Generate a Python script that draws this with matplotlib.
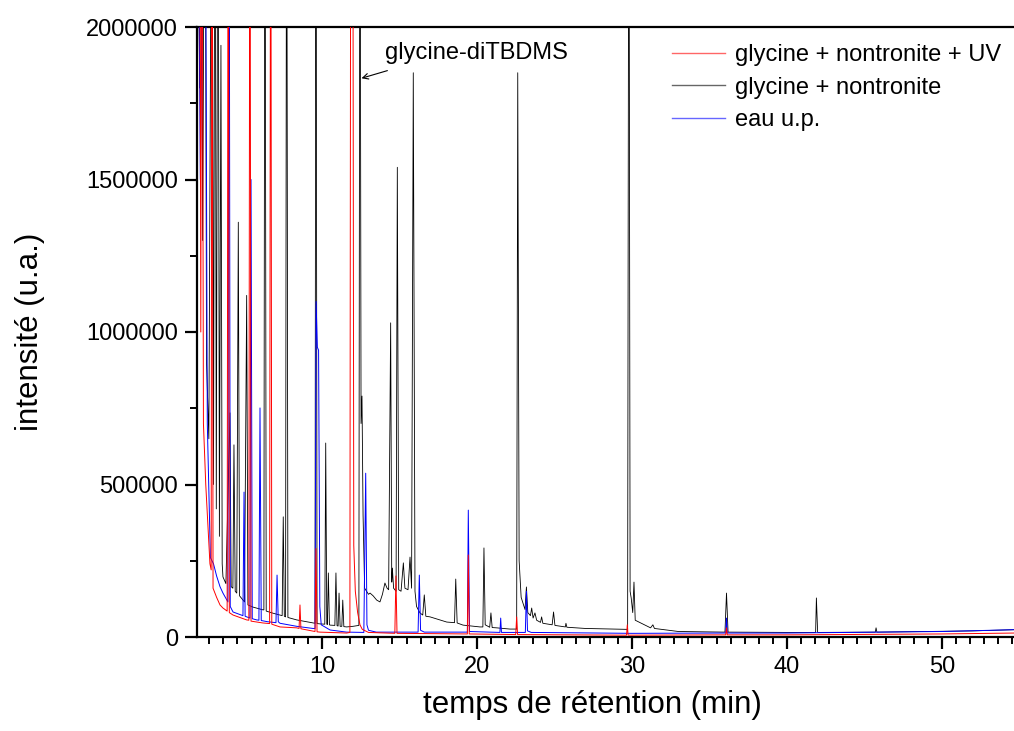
import matplotlib
matplotlib.use("Agg")
import matplotlib.pyplot as plt
from matplotlib.lines import Line2D
from matplotlib.ticker import MultipleLocator, FixedLocator, ScalarFormatter

plt.rcParams['font.family'] = ['Liberation Sans', 'DejaVu Sans']

# ---------------- data (retention time in min, intensity in a.u.) ----------------
labels = ["glycine + nontronite + UV", "glycine + nontronite", "eau u.p."]
colors = ['#ff0000', '#000000', '#0000ff']

black_t = [1.95, 2.1, 2.2, 2.3, 2.45, 2.55, 2.7, 2.9, 3.0, 3.1, 3.18, 3.29, 3.38, 3.48, 3.56, 3.61, 3.8,
           4.06, 4.14, 4.25, 4.32, 4.4, 4.5, 4.6, 4.68, 5.0, 5.14, 5.22, 5.55, 6.19, 6.25, 6.32, 6.4,
           6.84, 7.29, 7.43, 7.5, 7.57, 7.65, 7.72, 7.8, 8.37, 9.42, 9.55, 9.61, 9.68, 9.87, 10.18,
           10.24, 10.31, 10.35, 10.41, 10.48, 10.52, 10.83, 10.9, 10.97, 11.04, 11.1, 11.17, 11.28,
           11.34, 11.41, 11.59, 12.0, 12.38, 12.45, 12.52, 12.58, 12.65, 12.75, 13.0, 13.1, 13.3,
           13.53, 13.74, 13.9, 14.06, 14.2, 14.3, 14.43, 14.5, 14.54, 14.62, 14.78, 14.86, 14.95,
           15.1, 15.25, 15.35, 15.55, 15.68, 15.78, 15.89, 16.0, 16.1, 16.32, 16.5, 16.6, 16.7, 16.97,
           18.05, 18.55, 18.63, 18.72, 19.1, 20.19, 20.38, 20.45, 20.53, 20.82, 20.9, 20.98, 21.27,
           22.13, 22.56, 22.63, 22.72, 22.85, 23.1, 23.19, 23.28, 23.45, 23.53, 23.62, 23.74, 23.85,
           24.1, 24.17, 24.25, 24.85, 24.94, 25.03, 25.7, 25.74, 25.8, 27.0, 29.5, 29.72, 29.8,
           29.88, 29.95, 30.05, 30.13, 30.21, 30.6, 31.2, 31.35, 31.45, 33.0, 36.0, 36.1, 36.2,
           40.0, 41.85, 41.9, 41.98, 45.7, 45.75, 45.8, 49.1, 52.0, 54.7]
black_i = [3.0e6, 1.8e6, 3.0e6, 1.3e6, 3.0e6, 9.0e5, 6.5e5, 3.0e6, 5.0e5, 3.0e6, 4.2e5, 3.0e6, 3.3e5,
           1.94e6, 2.4e5, 1.97e5, 1.75e5, 7.35e5, 1.65e5, 1.6e5, 6.3e5, 1.5e5, 1.44e5, 1.36e6, 1.35e5,
           1.15e5, 1.12e6, 1.05e5, 9.8e4, 8.9e4, 8.9e4, 3.0e6, 8.5e4, 7.8e4, 7.2e4, 7.0e4, 3.94e5,
           6.8e4, 6.6e4, 3.0e6, 6.4e4, 5.6e4, 4.6e4, 4.5e4, 3.0e6, 4.4e4, 4.3e4, 4.2e4, 6.36e5, 4.2e4,
           4.1e4, 2.1e5, 4.0e4, 3.9e4, 3.8e4, 2.1e5, 3.7e4, 3.6e4, 1.44e5, 3.5e4, 3.5e4, 1.21e5, 3.4e4,
           3.3e4, 3.5e4, 3.8e4, 3.0e6, 7.0e5, 7.9e5, 4.0e5, 1.6e5, 1.4e5, 1.44e5, 1.35e5, 1.21e5,
           1.15e5, 1.4e5, 1.77e5, 1.6e5, 1.55e5, 1.03e6, 1.8e5, 2.26e5, 1.6e5, 1.5e5, 1.54e6, 1.55e5,
           1.5e5, 2.43e5, 1.6e5, 1.55e5, 2.62e5, 1.6e5, 1.85e6, 1.5e5, 1.0e5, 7.9e4, 7.2e4, 1.38e5,
           6.8e4, 6.6e4, 4.9e4, 4.7e4, 1.9e5, 4.6e4, 3.9e4, 3.3e4, 3.3e4, 2.92e5, 4.0e4, 3.2e4, 7.9e4,
           3.1e4, 3.0e4, 2.6e4, 2.6e4, 1.85e6, 2.5e5, 1.3e5, 9.0e4, 1.64e5, 8.0e4, 7.0e4, 9.5e4, 6.2e4,
           7.9e4, 5.5e4, 4.8e4, 6.6e4, 4.5e4, 4.0e4, 8.2e4, 3.8e4, 3.3e4, 4.5e4, 3.2e4, 2.8e4, 2.5e4,
           2.5e4, 3.0e6, 1.5e5, 1.28e5, 8.0e4, 1.8e5, 5.5e4, 4.5e4, 3.0e4, 4.0e4, 2.8e4, 1.8e4, 1.6e4,
           1.44e5, 1.6e4, 1.5e4, 1.5e4, 1.28e5, 1.5e4, 1.6e4, 3.0e4, 1.6e4, 1.8e4, 2.0e4, 2.4e4]

blue_t = [1.95, 2.15, 2.45, 2.6, 2.8, 3.0, 3.2, 3.42, 3.61, 3.93, 4.0, 4.08, 4.26, 4.9, 4.97, 5.04,
          5.35, 5.42, 5.5, 5.79, 5.93, 6.0, 6.08, 6.5, 7.03, 7.1, 7.18, 7.29, 8.37, 9.42, 9.55, 9.62,
          9.7, 9.78, 9.86, 9.95, 10.52, 11.59, 12.7, 12.82, 12.9, 13.0, 13.5, 16.2, 16.28, 16.36,
          16.6, 19.38, 19.44, 19.52, 21.48, 21.53, 21.58, 23.12, 23.19, 23.26, 23.5, 30.0, 36.05,
          36.1, 36.15, 40.0, 50.0, 54.7]
blue_i = [3.0e6, 1.5e6, 3.0e6, 7.0e5, 2.6e5, 2.4e5, 2.0e5, 1.65e5, 1.44e5, 1.15e5, 3.0e6, 1.0e5,
          8.2e4, 7.0e4, 4.75e5, 6.8e4, 6.2e4, 1.5e6, 6.0e4, 5.6e4, 5.5e4, 7.51e5, 5.4e4, 5.0e4, 4.7e4,
          2.03e5, 5.0e4, 4.5e4, 3.5e4, 2.8e4, 2.8e4, 1.1e6, 9.5e5, 9.4e5, 1.0e5, 4.0e4, 2.3e4, 1.6e4,
          1.5e4, 5.37e5, 4.0e4, 2.2e4, 1.6e4, 1.6e4, 2.03e5, 2.2e4, 1.6e4, 1.6e4, 4.16e5, 1.8e4, 1.5e4,
          6.2e4, 1.5e4, 1.5e4, 1.5e5, 2.0e4, 1.5e4, 1.2e4, 1.3e4, 6.2e4, 1.3e4, 1.3e4, 1.8e4, 2.4e4]

red_t = [1.95, 2.1, 2.18, 2.25, 2.35, 2.5, 2.77, 2.85, 2.9, 2.97, 3.2, 3.42, 3.61, 3.88, 3.95, 4.02,
         4.26, 5.14, 5.28, 5.35, 5.42, 6.19, 6.62, 6.69, 6.76, 7.29, 8.37, 8.52, 8.58, 8.64, 9.55,
         9.61, 9.68, 9.87, 11.59, 11.8, 11.86, 11.98, 12.05, 12.15, 12.3, 12.45, 12.6, 13.0, 14.7,
         14.77, 14.84, 19.38, 19.44, 19.5, 22.5, 22.56, 22.62, 29.65, 29.7, 29.75, 36.05, 36.1,
         36.15, 40.0, 50.0, 54.7]
red_i = [3.0e6, 3.0e6, 1.0e6, 3.0e6, 7.0e5, 5.0e5, 2.4e5, 2.2e5, 3.0e6, 1.6e5, 1.3e5, 1.05e5, 9.5e4,
         8.5e4, 3.0e6, 8.0e4, 7.2e4, 5.6e4, 5.5e4, 3.0e6, 5.2e4, 4.6e4, 4.4e4, 3.0e6, 4.2e4, 3.3e4,
         3.0e4, 2.8e4, 1.05e5, 2.7e4, 1.8e4, 2.9e5, 1.7e4, 1.6e4, 1.3e4, 1.5e4, 3.0e6, 3.0e6, 3.0e5,
         1.5e5, 8.0e4, 4.0e4, 2.5e4, 1.5e4, 1.2e4, 2.0e5, 1.2e4, 1.0e4, 2.69e5, 1.0e4, 8.0e3, 6.6e4,
         8.0e3, 6.0e3, 4.0e4, 6.0e3, 7.0e3, 3.0e4, 7.0e3, 7.0e3, 1.0e4, 1.3e4]

x_major = [10, 20, 30, 40, 50]
y_major = [0, 500000, 1000000, 1500000, 2000000]
annot_text = "glycine-diTBDMS"

# ---------------- figure ----------------
fig = plt.figure(figsize=(10.14, 7.31), dpi=100)
ax = fig.add_axes([197 / 1014, 1 - 637 / 731, 1 - 197 / 1014, (637 - 27) / 731])

ax.plot(black_t, black_i, color=colors[1], lw=0.6, zorder=2)
ax.plot(blue_t, blue_i, color=colors[2], lw=0.7, zorder=3)
ax.plot(red_t, red_i, color=colors[0], lw=0.7, zorder=4)

ax.set_xlim(1.935, 54.65)
ax.set_ylim(0, 2000000)

ax.xaxis.set_major_locator(FixedLocator(x_major))
ax.xaxis.set_minor_locator(MultipleLocator(10 / 11))
ax.yaxis.set_major_locator(FixedLocator(y_major))
ax.yaxis.set_minor_locator(MultipleLocator(250000))
fmt = ScalarFormatter(useOffset=False)
fmt.set_scientific(False)
ax.yaxis.set_major_formatter(fmt)

for s in ['left', 'bottom', 'top']:
    ax.spines[s].set_linewidth(1.6)
ax.spines['right'].set_visible(False)

ax.tick_params(axis='both', which='major', direction='out', length=8.6, width=1.6,
               labelsize=17, pad=5)
ax.tick_params(axis='both', which='minor', direction='out', length=5, width=1.4)
ax.tick_params(axis='x', which='both', top=False)

ax.set_xlabel("temps de rétention (min)", fontsize=22.5)
ax.set_ylabel("intensité (u.a.)", fontsize=22.5)
ax.xaxis.set_label_coords((592 - 197) / 817, -0.087)
ax.yaxis.set_label_coords(-0.186, 0.5)

# annotation
ax.text(14.05, 1.915e6, annot_text, fontsize=17, va='center', ha='left')
ax.annotate('', xy=(12.55, 1.832e6), xytext=(14.22, 1.857e6),
            arrowprops=dict(arrowstyle='->', lw=0.8, color='black', shrinkA=0, shrinkB=0))

handles = [Line2D([], [], color=c, lw=1.0, alpha=0.6) for c in colors]
leg = ax.legend(handles, labels, loc='upper left',
                bbox_to_anchor=(672 / 1014, 1 - 44 / 731), bbox_transform=fig.transFigure,
                frameon=False, fontsize=17, handlelength=2.25, handletextpad=0.4,
                labelspacing=0.45, borderpad=0, borderaxespad=0)
leg.set_zorder(10)

fig.savefig("out.png", dpi=100)
